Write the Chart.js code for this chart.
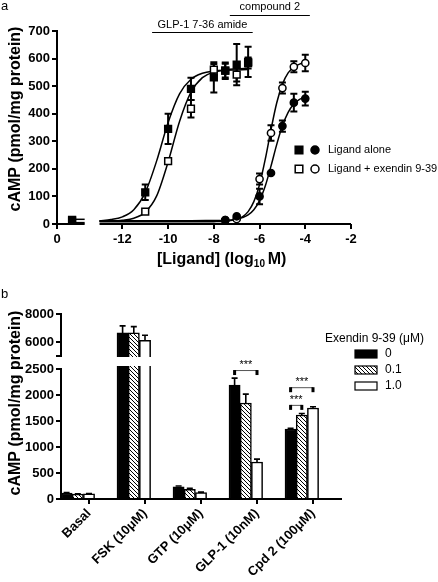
<!DOCTYPE html>
<html>
<head>
<meta charset="utf-8">
<script src="https://cdn.jsdelivr.net/npm/chart.js@4.4.1/dist/chart.umd.min.js"></script>
<style>
  html, body { margin:0; padding:0; background:#fff; }
  #wrap { position:relative; width:438px; height:582px; overflow:hidden; background:#fff; }
  #wrap canvas { position:absolute; left:0; }
</style>
</head>
<body>
<div id="wrap">
  <canvas id="chartA" width="438" height="280" style="top:0;width:438px;height:280px"></canvas>
  <canvas id="chartBUpper" width="438" height="302" style="top:280px;width:438px;height:302px"></canvas>
  <canvas id="chartBLower" width="438" height="302" style="top:280px;width:438px;height:302px"></canvas>
</div>
<script>
// ================= DATA: panel a (dose-response) =================
const glpLogConc     = [-11, -10, -9, -8, -7.5, -7, -6.5];
const glpAlone       = [115, 345, 490, 532, 556, 578, 588];
const glpAloneErr    = [28, 55, 40, 55, 30, 75, 55];
const glpExendin     = [45, 228, 418, 560, 556, 542, 584];
const glpExendinErr  = [5, 10, 32, 20, 25, 25, 20];

const cpdLogConc     = [-7.5, -7, -6, -5.5, -5, -4.5, -4];
const cpdAlone       = [14, 28, 100, 185, 355, 440, 455];
const cpdAloneErr    = [4, 5, 28, 0, 20, 32, 25];
const cpdExendin     = [14, 18, 163, 330, 493, 570, 584];
const cpdExendinErr  = [4, 4, 20, 28, 20, 20, 30];

const basalAlone     = 15;
const basalExendin   = 12;

// fitted curves
const glpCurveX        = [-13, -12.5, -12, -11.5, -11, -10.5, -10, -9.5, -9, -8.5, -8, -7.5, -7, -6.5];
const glpAloneCurve    = [12, 16, 26, 52, 114, 229, 368, 472, 525, 547, 555, 558, 559, 560];
const glpExendinCurve  = [10, 11, 14, 21, 43, 102, 225, 372, 478, 531, 551, 559, 563, 565];
const cpdCurveX        = [-13, -12, -11, -10, -9, -8, -7.5, -7, -6.75, -6.5, -6.25, -6, -5.75, -5.5, -5.25, -5, -4.75, -4.5, -4.25, -4];
const cpdAloneCurve    = [12, 12, 12, 12, 12, 12.5, 13, 17, 23, 33, 52, 85, 138, 210, 288, 356, 405, 435, 452, 461];
const cpdExendinCurve  = [8, 8, 8, 8, 8, 8.5, 10, 17, 26, 45, 81, 143, 235, 342, 439, 507, 548, 569, 580, 585];
const basalLineLevels  = [17, 5];

// x axis (log10 M) with a break: basal segment then -13 .. -2
const xTickValues = [-12, -10, -8, -6, -4, -2];
const X_AXIS_MIN = -14.86, SEG1_END = -13.65, SEG2_START = -13, X_AXIS_MAX = -2;
const BASAL_X = -14.2;
const yTickValuesA = [0, 100, 200, 300, 400, 500, 600, 700];
const glpRangeBar = [-10.7, -6.3];
const cpdRangeBar = [-7.3, -3.8];

// ================= DATA: panel b (bars) =================
const barCategories = ['Basal', 'FSK (10\u03BCM)', 'GTP (10\u03BCM)', 'GLP-1 (10nM)', 'Cpd 2 (100\u03BCM)'];
const exendinDoses  = ['0', '0.1', '1.0'];
const camp0    = [115, 6650, 235, 2190, 1346];
const camp01   = [95, 6650, 185, 1846, 1615];
const camp1    = [100, 6120, 125, 712, 1750];
const camp0Err  = [8, 500, 15, 135, 15];
const camp01Err = [6, 450, 20, 170, 30];
const camp1Err  = [6, 360, 8, 55, 25];
const yTicksLower = [0, 500, 1000, 1500, 2000, 2500];
const yTicksUpper = [5000, 6000, 8000];
// significance brackets: category index, dataset from, dataset to, level
const sigCategory = [3, 4, 4];
const sigFrom     = [0, 0, 0];
const sigTo       = [2, 2, 1];
const sigLevel    = [2480, 2150, 1810];

// ================= STYLE =================
const FONT = '"Liberation Sans", Arial, Helvetica, sans-serif';
Chart.defaults.font.family = FONT;
Chart.defaults.color = '#000';
Chart.defaults.animation = false;

function pts(xs, ys) { return xs.map((x, i) => ({ x: x, y: ys[i] })); }

function rotText(ctx, text, x, y, font) {
  ctx.save();
  ctx.translate(x, y);
  ctx.rotate(-Math.PI / 2);
  ctx.font = font;
  ctx.fillStyle = '#000';
  ctx.textAlign = 'center';
  ctx.textBaseline = 'middle';
  ctx.fillText(text, 0, 0);
  ctx.restore();
}

function drawMarker(ctx, kind, filled, cx, cy) {
  ctx.save();
  ctx.lineWidth = 1.5;
  ctx.strokeStyle = '#000';
  ctx.fillStyle = filled ? '#000' : '#fff';
  ctx.beginPath();
  if (kind === 'rect') ctx.rect(cx - 3.8, cy - 3.8, 7.6, 7.6);
  else ctx.arc(cx, cy, 4, 0, Math.PI * 2);
  ctx.fill(); ctx.stroke();
  ctx.restore();
}

const gridTicks = { drawOnChartArea: false, drawTicks: true, tickLength: 5, lineWidth: 2, color: '#000' };
const axisBorder = { display: true, width: 2, color: '#000' };
const tickFont = { family: FONT, size: 13, weight: 'bold' };

// ================= PANEL A =================
const errorBarsA = {
  id: 'errorBarsA',
  beforeDatasetsDraw(chart) {
    const { ctx, scales: { y } } = chart;
    chart.data.datasets.forEach((ds, di) => {
      if (!ds.errors) return;
      const meta = chart.getDatasetMeta(di);
      ctx.save();
      ctx.strokeStyle = '#000';
      ctx.lineWidth = 2;
      meta.data.forEach((pt, i) => {
        const e = ds.errors[i];
        if (!e) return;
        const v = ds.data[i].y;
        const yt = y.getPixelForValue(v + e), yb = y.getPixelForValue(v - e);
        ctx.beginPath();
        ctx.moveTo(pt.x, yt); ctx.lineTo(pt.x, yb);
        ctx.moveTo(pt.x - 3.5, yt); ctx.lineTo(pt.x + 3.5, yt);
        ctx.moveTo(pt.x - 3.5, yb); ctx.lineTo(pt.x + 3.5, yb);
        ctx.stroke();
      });
      ctx.restore();
    });
  }
};

const decorA = {
  id: 'decorA',
  afterDraw(chart) {
    const { ctx, chartArea: ca, scales: { x } } = chart;
    ctx.save();
    ctx.strokeStyle = '#000';
    ctx.fillStyle = '#000';
    // broken x axis line
    ctx.lineWidth = 2;
    ctx.beginPath();
    ctx.moveTo(ca.left, ca.bottom); ctx.lineTo(x.getPixelForValue(SEG1_END), ca.bottom);
    ctx.moveTo(x.getPixelForValue(SEG2_START), ca.bottom); ctx.lineTo(x.getPixelForValue(X_AXIS_MAX), ca.bottom);
    ctx.stroke();

    // panel letter
    ctx.font = '13px ' + FONT;
    ctx.textAlign = 'left'; ctx.textBaseline = 'alphabetic';
    ctx.fillText('a', 1, 10);

    // y title
    rotText(ctx, 'cAMP (pmol/mg protein)', 16, 119, 'bold 16px ' + FONT);

    // x title with subscript
    let tx = 157; const ty = 264;
    ctx.textAlign = 'left'; ctx.textBaseline = 'alphabetic';
    ctx.font = 'bold 16px ' + FONT;
    ctx.fillText('[Ligand] (log', tx, ty); tx += ctx.measureText('[Ligand] (log').width;
    ctx.font = 'bold 10px ' + FONT;
    ctx.fillText('10', tx, ty + 3); tx += ctx.measureText('10 ').width;
    ctx.font = 'bold 16px ' + FONT;
    ctx.fillText('M)', tx, ty);

    // range annotations
    ctx.lineWidth = 1;
    const g0 = x.getPixelForValue(glpRangeBar[0]), g1 = x.getPixelForValue(glpRangeBar[1]);
    const c0 = x.getPixelForValue(cpdRangeBar[0]), c1 = x.getPixelForValue(cpdRangeBar[1]);
    const gy = ca.top + 1.5, cy = ca.top - 15.5;
    ctx.beginPath();
    ctx.moveTo(g0, gy); ctx.lineTo(g1, gy);
    ctx.moveTo(c0, cy); ctx.lineTo(c1, cy);
    ctx.stroke();
    ctx.font = '11px ' + FONT;
    ctx.textAlign = 'center'; ctx.textBaseline = 'middle';
    ctx.fillText('GLP-1 7-36 amide', (g0 + g1) / 2, gy - 8);
    ctx.fillText('compound 2', (c0 + c1) / 2, cy - 9);

    // legend
    drawMarker(ctx, 'rect', true, 299, 150);
    drawMarker(ctx, 'circle', true, 315, 150);
    drawMarker(ctx, 'rect', false, 299, 169);
    drawMarker(ctx, 'circle', false, 315, 169);
    ctx.fillStyle = '#000';
    ctx.font = '11px ' + FONT;
    ctx.textAlign = 'left'; ctx.textBaseline = 'middle';
    ctx.fillText('Ligand alone', 328, 150);
    ctx.fillText('Ligand + exendin 9-39', 328, 169);
    ctx.restore();
  }
};

function curveDs(xs, ys) {
  return { data: pts(xs, ys), showLine: true, pointRadius: 0, borderColor: '#000', borderWidth: 1.5,
           cubicInterpolationMode: 'monotone', fill: false, order: 5 };
}
function markerDs(xs, ys, errs, style, filled, radius) {
  return { data: pts(xs, ys), errors: errs, showLine: false, pointStyle: style, pointRadius: radius,
           backgroundColor: filled ? '#000' : '#fff', borderColor: '#000', borderWidth: 1.5, order: filled ? 1 : 2 };
}

new Chart(document.getElementById('chartA'), {
  type: 'scatter',
  data: {
    datasets: [
      curveDs(glpCurveX, glpAloneCurve),
      curveDs(glpCurveX, glpExendinCurve),
      curveDs(cpdCurveX, cpdAloneCurve),
      curveDs(cpdCurveX, cpdExendinCurve),
      curveDs([BASAL_X, SEG1_END], [basalLineLevels[0], basalLineLevels[0]]),
      curveDs([BASAL_X, SEG1_END], [basalLineLevels[1], basalLineLevels[1]]),
      markerDs(glpLogConc, glpExendin, glpExendinErr, 'rect', false, 4.8),
      markerDs(glpLogConc, glpAlone, glpAloneErr, 'rect', true, 4.8),
      markerDs(cpdLogConc, cpdExendin, cpdExendinErr, 'circle', false, 3.6),
      markerDs(cpdLogConc, cpdAlone, cpdAloneErr, 'circle', true, 3.6),
      markerDs([BASAL_X], [basalExendin], null, 'rect', false, 4.8),
      markerDs([BASAL_X], [basalAlone], null, 'rect', true, 4.8)
    ]
  },
  options: {
    responsive: false,
    events: [],
    layout: { padding: { left: 0, top: 31, right: 87, bottom: 0 } },
    plugins: { legend: { display: false }, tooltip: { enabled: false } },
    scales: {
      x: {
        type: 'linear', min: X_AXIS_MIN, max: X_AXIS_MAX,
        afterBuildTicks: s => { s.ticks = [X_AXIS_MIN].concat(xTickValues).map(v => ({ value: v })); },
        afterFit: s => { s.height = 56; },
        grid: gridTicks,
        border: { display: false },
        ticks: { font: tickFont, padding: 3, autoSkip: false, maxRotation: 0,
                 callback: v => (v === X_AXIS_MIN ? '0' : String(v)) }
      },
      y: {
        min: 0, max: 700,
        afterBuildTicks: s => { s.ticks = yTickValuesA.map(v => ({ value: v })); },
        afterFit: s => { s.width = 57; },
        grid: gridTicks,
        border: axisBorder,
        ticks: { font: tickFont, padding: 2 }
      }
    }
  },
  plugins: [errorBarsA, decorA]
});

// ================= PANEL B =================
function makeHatch(canvas) {
  const tile = document.createElement('canvas');
  tile.width = 4; tile.height = 4;
  const g = tile.getContext('2d');
  g.fillStyle = '#fff'; g.fillRect(0, 0, 4, 4);
  g.strokeStyle = '#000'; g.lineWidth = 1;
  g.beginPath();
  g.moveTo(0, 0); g.lineTo(4, 4);
  g.moveTo(-1, 3); g.lineTo(1, 5);
  g.moveTo(3, -1); g.lineTo(5, 1);
  g.stroke();
  return canvas.getContext('2d').createPattern(tile, 'repeat');
}

const errorBarsB = {
  id: 'errorBarsB',
  afterDatasetsDraw(chart) {
    const { ctx, scales: { y } } = chart;
    chart.data.datasets.forEach((ds, di) => {
      if (!ds.errors) return;
      const meta = chart.getDatasetMeta(di);
      ctx.save();
      ctx.strokeStyle = '#000';
      ctx.lineWidth = 1.6;
      meta.data.forEach((bar, i) => {
        const v = ds.data[i], e = ds.errors[i];
        if (v == null || v > y.max || v < y.min) return;
        const yt = y.getPixelForValue(v + e);
        ctx.beginPath();
        ctx.moveTo(bar.x, bar.y); ctx.lineTo(bar.x, yt);
        ctx.moveTo(bar.x - 3, yt); ctx.lineTo(bar.x + 3, yt);
        ctx.stroke();
      });
      ctx.restore();
    });
  }
};

const decorB = {
  id: 'decorB',
  afterDraw(chart) {
    const { ctx, scales: { y } } = chart;
    ctx.save();
    ctx.fillStyle = '#000';
    ctx.strokeStyle = '#000';
    // panel letter
    ctx.font = '13px ' + FONT;
    ctx.textAlign = 'left'; ctx.textBaseline = 'alphabetic';
    ctx.fillText('b', 1, 18);
    // y title
    rotText(ctx, 'cAMP (pmol/mg protein)', 16, 123, 'bold 16px ' + FONT);
    // significance brackets
    sigCategory.forEach((cat, k) => {
      const a = chart.getDatasetMeta(sigFrom[k]).data[cat];
      const b = chart.getDatasetMeta(sigTo[k]).data[cat];
      const yy = y.getPixelForValue(sigLevel[k]);
      ctx.lineWidth = 1;
      ctx.strokeStyle = '#555';
      ctx.beginPath(); ctx.moveTo(a.x, yy + 0.5); ctx.lineTo(b.x, yy + 0.5); ctx.stroke();
      ctx.fillStyle = '#000';
      ctx.fillRect(a.x - 1.5, yy, 3, 5);
      ctx.fillRect(b.x - 1.5, yy, 3, 5);
      ctx.font = '11px ' + FONT;
      ctx.textAlign = 'center'; ctx.textBaseline = 'middle';
      ctx.fillText('***', (a.x + b.x) / 2, yy - 5);
    });
    // legend
    ctx.fillStyle = '#000';
    ctx.font = '12px ' + FONT;
    ctx.textAlign = 'left'; ctx.textBaseline = 'middle';
    ctx.fillText('Exendin 9-39 (\u03BCM)', 325, 59);
    const rowsY = [74, 90, 106];
    chart.data.datasets.slice(0, 3).forEach((ds, i) => {
      ctx.fillStyle = ds.backgroundColor;
      ctx.fillRect(355, rowsY[i] - 4, 22, 8);
      ctx.lineWidth = 1.2; ctx.strokeStyle = '#000';
      ctx.strokeRect(355, rowsY[i] - 4, 22, 8);
      ctx.fillStyle = '#000';
      ctx.fillText(exendinDoses[i], 385, rowsY[i]);
    });
    ctx.restore();
  }
};

function barDatasets(canvas, clip) {
  const hatch = makeHatch(canvas);
  const fills = ['#000', hatch, '#fff'];
  const vals = [camp0, camp01, camp1];
  const errs = [camp0Err, camp01Err, camp1Err];
  const ds = vals.map((v, i) => ({
    label: exendinDoses[i], data: v, errors: errs[i], backgroundColor: fills[i],
    borderColor: '#000', borderWidth: 1.5, borderSkipped: 'start', clip: clip
  }));
  // two empty spacer series keep the category tick under the third bar, as in the original layout
  ds.push({ label: '', data: barCategories.map(() => null) });
  ds.push({ label: '', data: barCategories.map(() => null) });
  return ds;
}

function barOptions(isUpper) {
  return {
    responsive: false,
    events: [],
    layout: { padding: isUpper ? { left: 0, top: 34, right: 97, bottom: 226 }
                               : { left: 0, top: 89, right: 97, bottom: 0 } },
    plugins: { legend: { display: false }, tooltip: { enabled: false } },
    datasets: { bar: { categoryPercentage: 1, barPercentage: 1 } },
    scales: {
      x: {
        type: 'category', display: !isUpper, offset: true,
        afterFit: s => { if (!isUpper) s.height = 83; },
        grid: Object.assign({}, gridTicks, { offset: false }),
        border: axisBorder,
        ticks: { font: tickFont, minRotation: 45, maxRotation: 45, padding: 2, autoSkip: false }
      },
      y: {
        min: isUpper ? 5000 : 0, max: isUpper ? 8000 : 2500,
        afterBuildTicks: s => { s.ticks = (isUpper ? yTicksUpper : yTicksLower).map(v => ({ value: v })); },
        afterFit: s => { s.width = 61; },
        grid: gridTicks,
        border: axisBorder,
        ticks: { font: tickFont, padding: 2, callback: v => (isUpper && v === 5000 ? '' : String(v)) }
      }
    }
  };
}

const cUp = document.getElementById('chartBUpper');
new Chart(cUp, {
  type: 'bar',
  data: { labels: barCategories, datasets: barDatasets(cUp, { left: 0, right: 0, top: 5, bottom: 1 }) },
  options: barOptions(true),
  plugins: [errorBarsB]
});

const cLo = document.getElementById('chartBLower');
new Chart(cLo, {
  type: 'bar',
  data: { labels: barCategories, datasets: barDatasets(cLo, { left: 0, right: 0, top: 3, bottom: 2 }) },
  options: barOptions(false),
  plugins: [errorBarsB, decorB]
});
</script>
</body>
</html>
